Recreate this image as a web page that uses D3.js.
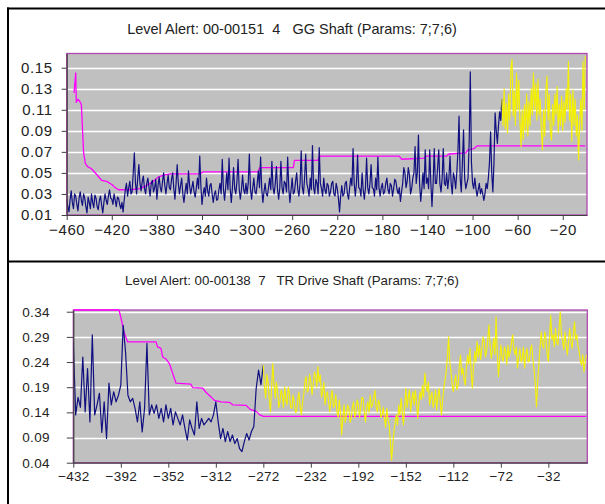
<!DOCTYPE html>
<html><head><meta charset="utf-8">
<script src="https://cdn.jsdelivr.net/npm/d3@7"></script>
<style>
html,body{margin:0;padding:0;background:#fff;}
svg{display:block;font-family:"Liberation Sans",Arial,sans-serif;}
</style></head>
<body><svg id="c" width="605" height="504"></svg>
<script>
// ---------------- DATA ----------------
const titles = [
  "Level Alert: 00-00151  4   GG Shaft (Params: 7;7;6)",
  "Level Alert: 00-00138  7   TR Drive Shaft (Params: 7;7;6)"
];
// Panel 1 (one reading per unit)
const p1XTicks = [-460,-420,-380,-340,-300,-260,-220,-180,-140,-100,-60,-20];
const p1YTicks = [0.01,0.03,0.05,0.07,0.09,0.11,0.13,0.15];
const p1BlueStart = -460, p1BlueStep = 1;
const p1Blue = [
 0.025,0.018,0.013,0.024,0.033,0.022,0.016,0.030,0.028,0.020,0.014,0.026,0.032,0.024,0.019,0.030,0.026,0.018,0.012,0.027,
 0.022,0.016,0.030,0.022,0.017,0.029,0.026,0.018,0.015,0.024,0.028,0.019,0.012,0.022,0.030,0.024,0.020,0.028,0.034,0.026,
 0.025,0.020,0.030,0.024,0.018,0.027,0.026,0.020,0.016,0.022,0.013,0.024,0.034,0.040,0.028,0.036,0.042,0.030,0.032,0.050,
 0.069,0.040,0.030,0.045,0.058,0.040,0.033,0.042,0.047,0.035,0.030,0.040,0.045,0.036,0.028,0.040,0.043,0.032,0.036,0.044,
 0.025,0.038,0.046,0.036,0.032,0.042,0.050,0.038,0.030,0.040,0.048,0.036,0.034,0.044,0.050,0.035,0.025,0.040,0.058,0.040,
 0.030,0.038,0.045,0.030,0.022,0.032,0.040,0.030,0.052,0.038,0.030,0.036,0.042,0.032,0.027,0.036,0.045,0.035,0.066,0.038,
 0.020,0.030,0.036,0.028,0.045,0.033,0.028,0.038,0.040,0.030,0.022,0.030,0.033,0.024,0.025,0.034,0.040,0.030,0.063,0.035,
 0.024,0.036,0.050,0.034,0.064,0.035,0.022,0.036,0.055,0.035,0.030,0.042,0.063,0.035,0.025,0.034,0.048,0.034,0.030,0.040,
 0.030,0.040,0.068,0.035,0.025,0.036,0.045,0.032,0.030,0.040,0.052,0.036,0.065,0.035,0.022,0.032,0.040,0.030,0.028,0.036,
 0.045,0.034,0.061,0.036,0.030,0.040,0.056,0.034,0.025,0.036,0.061,0.036,0.030,0.042,0.040,0.032,0.065,0.035,0.022,0.034,
 0.045,0.030,0.032,0.042,0.050,0.034,0.028,0.040,0.071,0.036,0.030,0.045,0.068,0.040,0.035,0.028,0.045,0.034,0.076,0.036,
 0.030,0.044,0.040,0.030,0.074,0.040,0.035,0.028,0.045,0.034,0.030,0.040,0.038,0.028,0.032,0.040,0.042,0.030,0.028,0.040,
 0.035,0.026,0.013,0.028,0.038,0.028,0.030,0.040,0.042,0.030,0.025,0.036,0.045,0.038,0.073,0.040,0.028,0.040,0.067,0.036,
 0.035,0.028,0.050,0.034,0.025,0.036,0.064,0.036,0.030,0.040,0.058,0.036,0.035,0.028,0.045,0.034,0.065,0.036,0.028,0.036,
 0.040,0.030,0.032,0.040,0.045,0.034,0.030,0.040,0.038,0.028,0.035,0.044,0.042,0.034,0.030,0.036,0.023,0.032,0.040,0.055,
 0.050,0.036,0.042,0.055,0.048,0.030,0.035,0.045,0.050,0.075,0.040,0.050,0.086,0.040,0.023,0.035,0.050,0.035,0.072,0.040,
 0.045,0.035,0.072,0.040,0.018,0.040,0.073,0.040,0.040,0.055,0.072,0.040,0.032,0.045,0.073,0.040,0.038,0.050,0.035,0.045,
 0.066,0.040,0.030,0.050,0.045,0.035,0.050,0.070,0.104,0.045,0.032,0.060,0.091,0.045,0.035,0.040,0.045,0.080,0.146,0.060,
 0.040,0.035,0.045,0.035,0.028,0.034,0.040,0.030,0.035,0.030,0.024,0.030,0.040,0.035,0.045,0.060,0.089,0.050,0.032,0.060,
 0.107,0.090,0.078,0.095,0.108,0.100,0.120
];
const p1YellowStart = -74, p1YellowStep = 1;
const p1Yellow = [
 0.120,0.095,0.130,0.092,0.116,0.088,0.125,0.100,0.150,0.158,
 0.104,0.128,0.095,0.145,0.110,0.138,0.100,0.075,0.110,0.082,
 0.115,0.090,0.125,0.085,0.118,0.095,0.130,0.105,0.145,0.110,
 0.135,0.100,0.139,0.105,0.120,0.090,0.072,0.110,0.085,0.128,
 0.142,0.100,0.125,0.090,0.081,0.115,0.095,0.125,0.105,0.132,
 0.088,0.115,0.095,0.123,0.090,0.118,0.098,0.130,0.110,0.156,
 0.100,0.125,0.080,0.129,0.095,0.120,0.085,0.105,0.062,0.098,
 0.120,0.090,0.156,0.110,0.161
];
const p1ThrX = [-453.5,-452,-451.5,-450,-448.5,-447,-445,-443.5,-441.5,-438,-433,-429,-424.5,-420,-417,-414,-404,-395,-389,-383,-379,-374,-368,-342,-339,-290,-289,-259,-258,-237,-236,-165,-163,-143,-141,-123,-121,-106,-104,-99,-96,0];
const p1ThrY = [0.126,0.145,0.117,0.120,0.118,0.115,0.069,0.059,0.056,0.054,0.048,0.043,0.042,0.039,0.036,0.034,0.034,0.035,0.038,0.042,0.046,0.048,0.049,0.049,0.051,0.051,0.055,0.055,0.062,0.062,0.066,0.066,0.063,0.064,0.066,0.066,0.068,0.069,0.072,0.073,0.0757,0.0757];

// Panel 2
const p2XTicks = [-432,-392,-352,-312,-272,-232,-192,-152,-112,-72,-32];
const p2YTicks = [0.04,0.09,0.14,0.19,0.24,0.29,0.34];
const p2BlueStart = -432, p2BlueStep = 2;
const p2Blue = [
 0.280,0.135,0.170,0.150,0.250,0.141,0.227,0.121,0.294,0.135,
 0.155,0.178,0.100,0.161,0.088,0.198,0.155,0.181,0.161,0.174,
 0.194,0.313,0.260,0.174,0.161,0.168,0.148,0.121,0.161,0.101,
 0.148,0.277,0.135,0.155,0.138,0.155,0.128,0.148,0.121,0.155,
 0.128,0.148,0.115,0.141,0.128,0.115,0.135,0.108,0.085,0.125,
 0.108,0.095,0.161,0.108,0.128,0.115,0.121,0.128,0.121,0.135,
 0.161,0.121,0.088,0.108,0.082,0.102,0.082,0.095,0.078,0.088,
 0.068,0.062,0.082,0.098,0.085,0.102,0.112,0.188,0.224,0.195,
 0.234
];
const p2YellowStart = -272, p2YellowStep = 1;
const p2Yellow = [
 0.234,0.190,0.168,0.215,0.200,0.165,0.141,0.190,0.237,0.195,0.168,0.200,0.181,0.150,0.161,0.185,0.174,0.150,0.191,0.165,
 0.155,0.190,0.178,0.150,0.148,0.175,0.161,0.140,0.141,0.165,0.181,0.150,0.135,0.160,0.174,0.200,0.211,0.180,0.185,0.215,
 0.201,0.175,0.194,0.220,0.214,0.190,0.231,0.200,0.214,0.170,0.181,0.200,0.155,0.175,0.181,0.160,0.141,0.170,0.184,0.150,
 0.155,0.175,0.141,0.130,0.165,0.140,0.095,0.130,0.155,0.120,0.135,0.155,0.148,0.120,0.128,0.150,0.161,0.130,0.140,0.165,
 0.155,0.130,0.148,0.170,0.168,0.140,0.121,0.150,0.161,0.140,0.174,0.150,0.155,0.170,0.184,0.150,0.141,0.165,0.155,0.130,
 0.135,0.150,0.128,0.110,0.148,0.125,0.115,0.080,0.045,0.075,0.102,0.120,0.135,0.115,0.155,0.135,0.168,0.140,0.115,0.150,
 0.188,0.150,0.168,0.185,0.141,0.165,0.181,0.155,0.184,0.160,0.128,0.160,0.181,0.165,0.194,0.170,0.218,0.195,0.181,0.200,
 0.155,0.170,0.181,0.150,0.161,0.185,0.145,0.170,0.188,0.160,0.135,0.165,0.188,0.205,0.221,0.250,0.290,0.240,0.221,0.195,
 0.181,0.200,0.214,0.185,0.194,0.230,0.254,0.215,0.228,0.205,0.194,0.230,0.254,0.235,0.267,0.220,0.188,0.230,0.261,0.240,
 0.281,0.250,0.274,0.245,0.267,0.290,0.281,0.250,0.261,0.285,0.314,0.270,0.247,0.265,0.287,0.255,0.330,0.260,0.211,0.245,
 0.274,0.250,0.241,0.270,0.261,0.235,0.274,0.250,0.261,0.280,0.294,0.265,0.254,0.270,0.228,0.250,0.267,0.240,0.247,0.270,
 0.228,0.255,0.267,0.240,0.241,0.265,0.274,0.245,0.224,0.200,0.151,0.200,0.234,0.270,0.300,0.275,0.267,0.300,0.287,0.255,
 0.241,0.290,0.333,0.285,0.294,0.270,0.307,0.280,0.274,0.305,0.340,0.295,0.281,0.265,0.300,0.275,0.254,0.280,0.307,0.280,
 0.267,0.295,0.320,0.285,0.294,0.270,0.261,0.240,0.234,0.255,0.221,0.240,0.254
];
const p2ThrX = [-432,-393.5,-391.8,-389,-386.2,-362.4,-361,-358.2,-356.7,-353.9,-351.1,-345.5,-333,-331.5,-323.1,-320.3,-313.2,-307.6,-300.6,-297.8,-286.6,-283,-278,-275,-272,0];
const p2ThrY = [0.36,0.36,0.327,0.297,0.280,0.280,0.270,0.267,0.250,0.246,0.237,0.198,0.196,0.189,0.188,0.180,0.164,0.161,0.160,0.155,0.154,0.146,0.142,0.135,0.132,0.132];

// ---------------- DRAW ----------------
const svg = d3.select("#c");

const frame = svg.append("g").attr("stroke","#000").attr("stroke-width",2);
frame.append("line").attr("x1",8).attr("x2",8).attr("y1",7.5).attr("y2",504);
frame.append("line").attr("x1",7).attr("x2",605).attr("y1",8.5).attr("y2",8.5);
frame.append("line").attr("x1",7).attr("x2",605).attr("y1",261.5).attr("y2",261.5);

function series(start, st, vals){ return vals.map((v,i)=>({x:start+i*st, y:v})); }
function pairs(xs, ys){ return xs.map((x,i)=>({x:x, y:ys[i]})); }

function panel(cfg){
  const x = d3.scaleLinear().domain(cfg.xDom).range([cfg.left, cfg.right]);
  const y = d3.scaleLinear().domain(cfg.yDom).range([cfg.bottom, cfg.top]).clamp(true);
  const g = svg.append("g");
  const id = "clip"+cfg.id;
  svg.append("clipPath").attr("id",id).append("rect")
    .attr("x",cfg.left).attr("y",cfg.top-1).attr("width",cfg.right-cfg.left).attr("height",cfg.bottom-cfg.top+1);

  g.append("rect").attr("x",cfg.left).attr("y",cfg.top)
    .attr("width",cfg.right-cfg.left).attr("height",cfg.bottom-cfg.top).attr("fill","#c0c0c0");

  g.append("g").selectAll("line").data(cfg.yTicks.slice(1)).join("line")
    .attr("x1",cfg.left).attr("x2",cfg.right)
    .attr("y1",d=>Math.round(y(d))+0.5).attr("y2",d=>Math.round(y(d))+0.5)
    .attr("stroke","#fff").attr("stroke-width",1.6);

  g.append("rect").attr("x",cfg.left).attr("y",cfg.top)
    .attr("width",cfg.right-cfg.left).attr("height",cfg.bottom-cfg.top)
    .attr("fill","none").attr("stroke","#b048b0").attr("stroke-width",1.3);

  const line = d3.line().x(d=>x(d.x)).y(d=>y(d.y));
  const lg = g.append("g").attr("clip-path","url(#"+id+")").attr("fill","none")
    .attr("stroke-linejoin","round");
  lg.append("path").datum(pairs(cfg.thrX, cfg.thrY)).attr("d",line)
    .attr("stroke","#ff00ff").attr("stroke-width",1.3);
  lg.append("path").datum(series(cfg.blueStart, cfg.blueStep, cfg.blue)).attr("d",line)
    .attr("stroke","#101080").attr("stroke-width",1.2);
  lg.append("path").datum(series(cfg.yellowStart, cfg.yellowStep, cfg.yellow)).attr("d",line)
    .attr("stroke","#f4f000").attr("stroke-width",1.1);

  const ax = g.append("g").attr("transform","translate(0,"+cfg.bottom+")")
    .call(d3.axisBottom(x).tickValues(cfg.xTicks).tickSize(5).tickSizeOuter(0).tickPadding(4).tickFormat(d3.format("d")));
  const ay = g.append("g").attr("transform","translate("+cfg.left+",0)")
    .call(d3.axisLeft(y).tickValues(cfg.yTicks).tickSize(cfg.yTickLen).tickSizeOuter(0).tickPadding(cfg.yPad).tickFormat(d3.format(".2f")));
  [ax,ay].forEach(a=>{
    a.select(".domain").attr("stroke","#404040").attr("stroke-width",1.2);
    a.selectAll(".tick line").attr("stroke","#404040");
    a.selectAll("text").attr("fill","#222").style("font-size",cfg.fs+"px")
      .style("letter-spacing",cfg.ls+"px")
      .style("font-family","'Liberation Sans',Arial,sans-serif");
  });

  svg.append("text").attr("x",cfg.titleX).attr("y",cfg.titleY).attr("text-anchor","middle")
    .attr("xml:space","preserve").style("white-space","pre")
    .style("font-size",cfg.tfs+"px").attr("fill","#222").text(cfg.title);
}

panel({id:1, left:66.7, right:587, top:53.5, bottom:215,
  xDom:[-460,1.5], yDom:[0.01,0.1635], xTicks:p1XTicks, yTicks:p1YTicks,
  blueStart:p1BlueStart, blueStep:p1BlueStep, blue:p1Blue,
  yellowStart:p1YellowStart, yellowStep:p1YellowStep, yellow:p1Yellow,
  thrX:p1ThrX, thrY:p1ThrY, fs:15, ls:0.6, yTickLen:5, yPad:9,
  title:titles[0], titleX:292, titleY:34, tfs:14.5});

panel({id:2, left:73.3, right:587.3, top:310, bottom:462.7,
  xDom:[-432,0.8], yDom:[0.04,0.3434], xTicks:p2XTicks, yTicks:p2YTicks,
  blueStart:p2BlueStart, blueStep:p2BlueStep, blue:p2Blue,
  yellowStart:p2YellowStart, yellowStep:p2YellowStep, yellow:p2Yellow,
  thrX:p2ThrX, thrY:p2ThrY, fs:13.5, ls:0.3, yTickLen:6.5, yPad:17,
  title:titles[1], titleX:292, titleY:285, tfs:13.3});
</script></body></html>
